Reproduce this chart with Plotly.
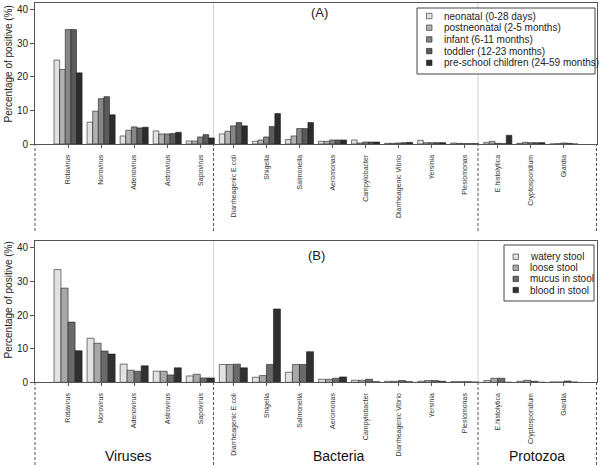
import plotly.graph_objects as go

W, H = 600, 465
FONT = "Liberation Sans, Arial, sans-serif"

categories = ["Rotavirus", "Norovirus", "Adenovirus", "Astrovirus", "Sapovirus",
              "Diarrheagenic E.coli", "Shigella", "Salmonella", "Aeromonas",
              "Campylobacter", "Diarrheagenic Vibrio", "Yersinia", "Plesiomonas",
              "E.histolytica", "Cryptosporidium", "Giardia"]

# Panel A: age groups
age_names = ["neonatal (0-28 days)", "postneonatal (2-5 months)", "infant (6-11 months)",
             "toddler (12-23 months)", "pre-school children (24-59 months)"]
neonatal = [25.0, 6.5, 2.4, 3.9, 0.9, 3.0, 0.8, 1.3, 0.8, 1.2, 0.2, 1.1, 0.3, 0.5, 0.2, 0.0]
postneonatal = [22.2, 9.8, 4.1, 3.0, 0.9, 3.8, 1.2, 2.4, 0.8, 0.3, 0.2, 0.4, 0.2, 0.8, 0.5, 0.1]
infant = [34.1, 13.5, 5.1, 3.0, 2.1, 5.4, 2.1, 4.6, 1.2, 0.6, 0.3, 0.4, 0.1, 0.2, 0.4, 0.3]
toddler = [34.1, 14.1, 4.8, 3.1, 2.8, 6.4, 5.2, 4.6, 1.2, 0.6, 0.4, 0.4, 0.1, 0.1, 0.4, 0.2]
preschool = [21.2, 8.7, 5.0, 3.5, 1.8, 5.4, 9.1, 6.4, 1.2, 0.6, 0.5, 0.4, 0.1, 2.6, 0.4, 0.0]
age_values = [neonatal, postneonatal, infant, toddler, preschool]
age_colors = ["#e2e2e2", "#b2b2b2", "#868686", "#5a5a5a", "#2c2c2c"]

# Panel B: stool types
stool_names = ["watery stool", "loose stool", "mucus in stool", "blood in stool"]
watery = [33.5, 13.1, 5.4, 3.3, 1.9, 5.3, 1.5, 3.0, 0.9, 0.6, 0.3, 0.3, 0.2, 0.5, 0.3, 0.1]
loose = [28.0, 11.6, 3.6, 3.3, 2.4, 5.3, 2.0, 5.3, 0.9, 0.6, 0.3, 0.5, 0.2, 1.2, 0.6, 0.1]
mucus = [17.9, 9.3, 3.3, 2.2, 1.3, 5.4, 5.3, 5.3, 1.2, 0.9, 0.5, 0.5, 0.2, 1.2, 0.3, 0.4]
blood = [9.4, 8.4, 4.9, 4.3, 1.3, 4.3, 21.8, 9.1, 1.6, 0.2, 0.2, 0.3, 0.1, 0.0, 0.0, 0.1]
stool_values = [watery, loose, mucus, blood]
stool_colors = ["#e2e2e2", "#a8a8a8", "#6a6a6a", "#303030"]

groups = ["Viruses", "Bacteria", "Protozoa"]
group_pos = [1.8, 8.2, 14.2]
dividers = [4.4, 12.4]
y_ticks = [0, 10, 20, 30, 40]
y_title = "Percentage of positive (%)"

XR = [-1, 16]
YR = [0, 42]
XDOM = [35 / W, 597 / W]
YDOM_A = [1 - 144 / H, 1 - 3 / H]
YDOM_B = [1 - 382.3 / H, 1 - 241 / H]


def px(x):
    return x / W


def py(y):
    return 1 - y / H


def xpaper(v):
    return XDOM[0] + (v - XR[0]) / (XR[1] - XR[0]) * (XDOM[1] - XDOM[0])


fig = go.Figure()
for name, vals, col in zip(age_names, age_values, age_colors):
    fig.add_trace(go.Bar(x=categories, y=vals, name=name, xaxis="x", yaxis="y",
                         marker=dict(color=col, line=dict(color="#222", width=0.6)),
                         showlegend=False))
for name, vals, col in zip(stool_names, stool_values, stool_colors):
    fig.add_trace(go.Bar(x=categories, y=vals, name=name, xaxis="x2", yaxis="y2",
                         marker=dict(color=col, line=dict(color="#222", width=0.6)),
                         showlegend=False))

xcommon = dict(range=XR, domain=XDOM, showline=True, linecolor="#555", linewidth=1,
               mirror=True, ticks="outside", ticklen=3, tickcolor="#555",
               tickangle=-90, tickfont=dict(size=7, color="#333", family=FONT),
               showgrid=False, zeroline=False, automargin=False, fixedrange=True,
               ticklabelstandoff=4)
ycommon = dict(range=YR, tickvals=y_ticks, showline=True, linecolor="#555", linewidth=1,
               mirror=True, ticks="outside", ticklen=4, tickcolor="#555",
               tickfont=dict(size=10, color="#222", family=FONT),
               showgrid=False, zeroline=False, automargin=False, fixedrange=True)

shapes = []
annotations = []

# Divider lines inside plots and dashed lines beneath
for xa, ya, top_px, bot_px in [("x", "y", 144, 231), ("x2", "y2", 382.3, 465)]:
    for d in dividers:
        shapes.append(dict(type="line", xref=xa, yref=ya, x0=d, x1=d, y0=YR[0], y1=YR[1],
                           line=dict(color="#d2d2d2", width=1), layer="below"))
    for d in [XR[0]] + dividers + [XR[1]]:
        xp = xpaper(d)
        if d == XR[1]:
            xp -= 0.5 / W
        shapes.append(dict(type="line", xref="paper", yref="paper", x0=xp, x1=xp,
                           y0=py(bot_px), y1=py(top_px),
                           line=dict(color="#555", width=1, dash="3px,2px")))

# Y-axis titles
for ycen in [64, 300]:
    annotations.append(dict(text=y_title, xref="paper", yref="paper", x=px(7.5), y=py(ycen),
                            textangle=-90, showarrow=False, xanchor="center", yanchor="middle",
                            font=dict(size=10, color="#222", family=FONT)))

# Panel labels
annotations.append(dict(text="(A)", xref="paper", yref="paper", x=px(319), y=py(13),
                        xanchor="center", yanchor="middle",
                        showarrow=False, font=dict(size=13, color="#222", family=FONT)))
annotations.append(dict(text="(B)", xref="paper", yref="paper", x=px(316.5), y=py(255.5),
                        xanchor="center", yanchor="middle",
                        showarrow=False, font=dict(size=13, color="#222", family=FONT)))

# Group labels
for g, gp in zip(groups, group_pos):
    annotations.append(dict(text=g, xref="x2", yref="paper", x=gp, y=py(455.5),
                            xanchor="center", yanchor="middle",
                            showarrow=False, font=dict(size=14, color="#111", family=FONT)))


def legend(names, colors, box, sw_x, txt_x, y0, step):
    x0b, y0b, x1b, y1b = box
    shapes.append(dict(type="rect", xref="paper", yref="paper", x0=px(x0b), x1=px(x1b),
                       y0=py(y1b), y1=py(y0b), line=dict(color="#444", width=1),
                       fillcolor="white"))
    for i, (n, c) in enumerate(zip(names, colors)):
        yc = y0 + i * step
        shapes.append(dict(type="rect", xref="paper", yref="paper", x0=px(sw_x), x1=px(sw_x + 5.5),
                           y0=py(yc + 2.7), y1=py(yc - 2.7), fillcolor=c,
                           line=dict(color="#222", width=0.6)))
        annotations.append(dict(text=n, xref="paper", yref="paper", x=px(txt_x), y=py(yc),
                                xanchor="left", yanchor="middle", showarrow=False,
                                font=dict(size=10, color="#222", family=FONT)))


legend(age_names, age_colors, (417, 8, 595, 74), 426.5, 441.5, 16, 11.7)
legend(stool_names, stool_colors, (504, 245, 594, 301), 513, 528, 256.7, 11.1)

fig.update_layout(
    width=W, height=H, autosize=False,
    margin=dict(l=0, r=0, t=0, b=0, pad=0),
    paper_bgcolor="white", plot_bgcolor="white",
    barmode="group", bargap=0.15, bargroupgap=0,
    font=dict(family=FONT, color="#222"),
    xaxis=dict(anchor="y", **xcommon),
    yaxis=dict(anchor="x", domain=YDOM_A, **ycommon),
    xaxis2=dict(anchor="y2", **xcommon),
    yaxis2=dict(anchor="x2", domain=YDOM_B, **ycommon),
    shapes=shapes,
    annotations=annotations,
    showlegend=False,
    hovermode=False,
)

fig.write_html("out.html", config={"displayModeBar": False, "staticPlot": True},
               post_script="document.body.style.margin='0';document.body.style.overflow='hidden';")
